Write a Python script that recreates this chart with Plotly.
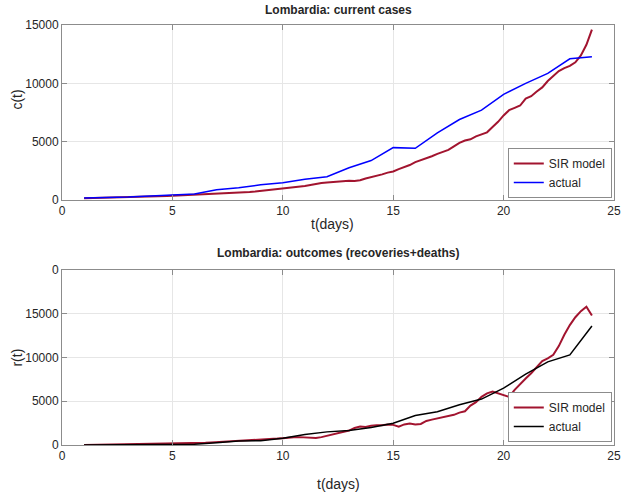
import plotly.graph_objects as go

# ---------------- data ----------------
days = [1, 2, 3, 4, 5, 6, 7, 8, 9, 10, 11, 12, 13, 14, 15, 16, 17, 18, 19, 20, 21, 22, 23, 24]

cases_actual = [170, 200, 250, 350, 450, 520, 880, 1050, 1300, 1480, 1770, 2000, 2770, 3380,
                4490, 4430, 5750, 6900, 7700, 9050, 10000, 10850, 12100, 12280]

outcomes_actual = [0, 20, 40, 60, 100, 100, 250, 450, 500, 780, 1200, 1500, 1650, 2000,
                   2480, 3380, 3800, 4600, 5250, 6500, 8100, 9500, 10300, 13600]

model_t = [1.0, 1.25, 1.5, 1.75, 2.0, 2.25, 2.5, 2.75, 3.0, 3.25, 3.5, 3.75,
           4.0, 4.25, 4.5, 4.75, 5.0, 5.25, 5.5, 5.75, 6.0, 6.25, 6.5, 6.75,
           7.0, 7.25, 7.5, 7.75, 8.0, 8.25, 8.5, 8.75, 9.0, 9.25, 9.5, 9.75,
           10.0, 10.25, 10.5, 10.75, 11.0, 11.25, 11.5, 11.75, 12.0, 12.25, 12.5, 12.75,
           13.0, 13.25, 13.5, 13.75, 14.0, 14.25, 14.5, 14.75, 15.0, 15.25, 15.5, 15.75,
           16.0, 16.25, 16.5, 16.75, 17.0, 17.25, 17.5, 17.75, 18.0, 18.25, 18.5, 18.75,
           19.0, 19.25, 19.5, 19.75, 20.0, 20.25, 20.5, 20.75, 21.0, 21.25, 21.5, 21.75,
           22.0, 22.25, 22.5, 22.75, 23.0, 23.25, 23.5, 23.75, 24.0]

cases_model = [150, 160, 170, 180, 195, 205, 215, 230, 245, 255, 270, 285,
               300, 315, 335, 350, 370, 390, 410, 430, 450, 470, 490, 505,
               520, 540, 555, 570, 600, 640, 690, 730, 780, 820, 860, 900,
               950, 1000, 1060, 1130, 1200, 1280, 1380, 1450, 1500, 1540, 1600, 1660,
               1650, 1630, 1700, 1850, 1950, 2050, 2200, 2350, 2450, 2650, 2800, 3000,
               3250, 3400, 3550, 3750, 3950, 4100, 4300, 4600, 4900, 5100, 5200, 5450,
               5650, 5800, 6250, 6700, 7250, 7700, 7900, 8100, 8700, 8900, 9300, 9650,
               10200, 10650, 11050, 11300, 11500, 11800, 12400, 13300, 14600]

outcomes_model = [0, 10, 20, 25, 30, 40, 45, 55, 60, 70, 80, 90,
                  100, 110, 130, 150, 160, 180, 200, 170, 150, 200, 250, 300,
                  330, 380, 450, 480, 500, 520, 540, 560, 580, 620, 680, 730,
                  780, 850, 880, 900, 880, 850, 800, 900, 1050, 1200, 1400, 1500,
                  1650, 1950, 2100, 2050, 2200, 2250, 2250, 2350, 2300, 2100, 2350, 2450,
                  2350, 2400, 2750, 2900, 3050, 3200, 3350, 3450, 3700, 3850, 4500, 4900,
                  5500, 5900, 6100, 5900, 5700, 5500, 6300, 7000, 7600, 8200, 8900, 9600,
                  9900, 10300, 11300, 12600, 13700, 14600, 15300, 15800, 14800]

x_ticks = [0, 5, 10, 15, 20, 25]
top_y_ticks = [0, 5000, 10000, 15000]
top_y_ticktext = ["0", "5000", "10000", "15000"]
bot_y_ticks = [0, 5000, 10000, 15000, 20000]
bot_y_ticktext = ["0", "5000", "10000", "15000", "0"]

# ---------------- styles ----------------
RED = "#A2142F"
BLUE = "#0000FF"
TXT = "#262626"
GRID = "#E6E6E6"
AXL = "#8C8C8C"
FONT = "Liberation Sans, Arial, sans-serif"

fig = go.Figure()
fig.add_trace(go.Scatter(x=model_t, y=cases_model, mode="lines", name="SIR model",
                         line=dict(color=RED, width=2), xaxis="x", yaxis="y", legend="legend"))
fig.add_trace(go.Scatter(x=days, y=cases_actual, mode="lines", name="actual",
                         line=dict(color=BLUE, width=1.5), xaxis="x", yaxis="y", legend="legend"))
fig.add_trace(go.Scatter(x=model_t, y=outcomes_model, mode="lines", name="SIR model",
                         line=dict(color=RED, width=2), xaxis="x2", yaxis="y2", legend="legend2"))
fig.add_trace(go.Scatter(x=days, y=outcomes_actual, mode="lines", name="actual",
                         line=dict(color="#000000", width=1.5), xaxis="x2", yaxis="y2", legend="legend2"))

axis_common = dict(showgrid=True, gridcolor=GRID, gridwidth=1, zeroline=False,
                   showline=True, linecolor=AXL, linewidth=1, mirror="ticks",
                   ticks="inside", ticklen=5, tickcolor=AXL,
                   tickfont=dict(size=12, color=TXT, family=FONT))

legend_common = dict(bgcolor="white", bordercolor=AXL, borderwidth=1,
                     font=dict(size=12, color=TXT, family=FONT),
                     xanchor="right", yanchor="bottom", x=0.996,
                     tracegroupgap=0, itemwidth=30)

fig.update_layout(
    width=633, height=497,
    margin=dict(l=62, r=12, t=25, b=52),
    paper_bgcolor="white", plot_bgcolor="white",
    font=dict(family=FONT, color=TXT),
    showlegend=True,
    xaxis=dict(domain=[0, 1], range=[0, 25], tickvals=x_ticks, anchor="y", **axis_common),
    yaxis=dict(domain=[0.5833, 1.0], range=[0, 15000], tickvals=top_y_ticks,
               ticktext=top_y_ticktext, anchor="x", **axis_common),
    xaxis2=dict(domain=[0, 1], range=[0, 25], tickvals=x_ticks, anchor="y2", **axis_common),
    yaxis2=dict(domain=[0.0, 0.4167], range=[0, 20000], tickvals=bot_y_ticks,
                ticktext=bot_y_ticktext, anchor="x2", **axis_common),
    legend=dict(y=0.588, **legend_common),
    legend2=dict(y=0.007, **legend_common),
    annotations=[
        dict(text="<b>Lombardia: current cases</b>", xref="paper", yref="paper",
             x=0.5, y=1.0357, showarrow=False, font=dict(size=12, color=TXT, family=FONT),
             xanchor="center", yanchor="middle"),
        dict(text="<b>Lombardia: outcomes (recoveries+deaths)</b>", xref="paper", yref="paper",
             x=0.5, y=0.457, showarrow=False, font=dict(size=12, color=TXT, family=FONT),
             xanchor="center", yanchor="middle"),
        dict(text="t(days)", xref="paper", yref="paper", x=(336 - 62) / 559, y=(445 - 224) / 420,
             showarrow=False, font=dict(size=14, color=TXT, family=FONT),
             xanchor="center", yanchor="middle"),
        dict(text="t(days)", xref="paper", yref="paper", x=0.5, y=(445 - 484) / 420,
             showarrow=False, font=dict(size=14, color=TXT, family=FONT),
             xanchor="center", yanchor="middle"),
        dict(text="c(t)", xref="paper", yref="paper", x=(16 - 62) / 559, y=(445 - 100) / 420,
             showarrow=False, textangle=-90, font=dict(size=14, color=TXT, family=FONT),
             xanchor="center", yanchor="middle"),
        dict(text="r(t)", xref="paper", yref="paper", x=(16 - 62) / 559, y=(445 - 358) / 420,
             showarrow=False, textangle=-90, font=dict(size=14, color=TXT, family=FONT),
             xanchor="center", yanchor="middle"),
    ],
)

fig.write_html("out.html", config={"displayModeBar": False},
               post_script="document.body.style.margin='0';")
